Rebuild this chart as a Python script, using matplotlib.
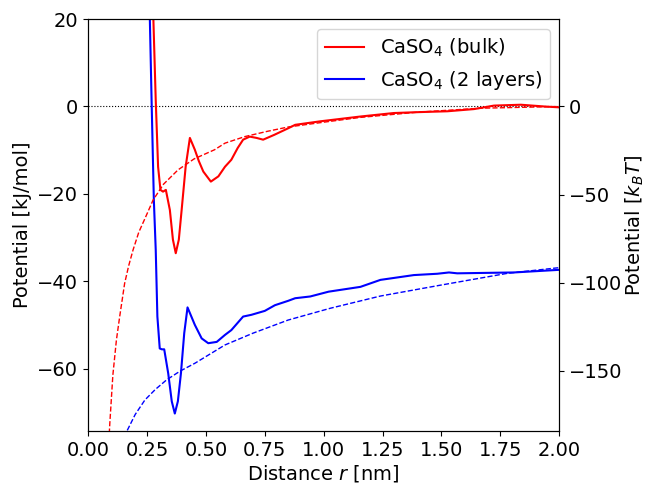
import matplotlib
matplotlib.use("Agg")
import matplotlib.pyplot as plt

# Data
r_bulk = [0.26, 0.277, 0.287, 0.297, 0.307, 0.318, 0.330, 0.347, 0.360, 0.372, 0.385, 0.397,
          0.414, 0.432, 0.453, 0.470, 0.489, 0.521, 0.553, 0.581, 0.608, 0.635, 0.658, 0.686,
          0.715, 0.743, 0.790, 0.849, 0.879, 0.985, 1.156, 1.298, 1.40, 1.525, 1.638, 1.723,
          1.837, 1.936, 2.0]
u_bulk = [50, 20, 1.5, -13.8, -19.1, -19.5, -19.1, -23.7, -30.5, -33.6, -30.5, -23.7,
          -13.8, -7.2, -9.9, -12.5, -14.9, -17.2, -16.0, -13.8, -12.2, -9.5, -7.6, -6.9,
          -7.2, -7.6, -6.5, -5.0, -4.2, -3.4, -2.3, -1.5, -1.3, -1.1, -0.6, 0.2,
          0.4, 0.0, -0.2]

r_layers = [0.25, 0.262, 0.270, 0.279, 0.287, 0.294, 0.304, 0.313, 0.323, 0.340, 0.355, 0.368,
            0.381, 0.394, 0.408, 0.422, 0.453, 0.482, 0.510, 0.546, 0.581, 0.608, 0.658, 0.693,
            0.750, 0.793, 0.849, 0.879, 0.943, 1.021, 1.156, 1.241, 1.383, 1.482, 1.532, 1.567,
            1.808, 2.0]
u_layers = [50, 20, 0, -21.4, -32.8, -48.1, -55.4, -55.6, -55.6, -61.1, -67.5, -70.3,
            -67.5, -61.1, -51.9, -46.0, -50.0, -53.1, -54.2, -53.9, -52.3, -51.2, -48.1, -47.7,
            -46.8, -45.5, -44.5, -43.9, -43.5, -42.4, -41.3, -39.7, -38.6, -38.3, -38.0, -38.2,
            -38.0, -37.4]

r_bulk_fit = [0.08, 0.092, 0.105, 0.120, 0.134, 0.155, 0.172, 0.191, 0.215, 0.240, 0.276, 0.320,
              0.382, 0.450, 0.537, 0.581, 0.665, 0.760, 0.849, 1.0, 1.156, 1.4, 1.667, 2.0]
u_bulk_fit = [-85, -72.6, -61.5, -53.5, -48.1, -40.5, -36.5, -32.8, -28.8, -25.8, -21.4, -17.8,
              -14.5, -12.0, -9.9, -8.4, -6.9, -5.7, -4.7, -3.6, -2.5, -1.3, -0.4, 0.0]

r_layers_fit = [0.14, 0.163, 0.20, 0.241, 0.285, 0.333, 0.390, 0.453, 0.520, 0.581, 0.700,
                0.849, 1.028, 1.241, 1.497, 1.780, 2.0]
u_layers_fit = [-79, -74.5, -70.5, -67.2, -64.8, -62.6, -60.6, -58.8, -56.6, -54.6, -51.9,
                -48.9, -46.2, -43.4, -40.9, -38.2, -36.9]

kT_factor = 2.478
ylim = (-74.3, 20)
xticks = [0.00, 0.25, 0.50, 0.75, 1.00, 1.25, 1.50, 1.75, 2.00]
yticks_left = [20, 0, -20, -40, -60]
yticks_right = [0, -50, -100, -150]

fs = 14
fig = plt.figure(figsize=(6.48, 4.84), dpi=100)
ax = fig.add_axes([0.136, 0.1095, 0.727, 0.851])

ax.axhline(0, color="black", linestyle=":", linewidth=0.8)
ax.plot(r_bulk, u_bulk, color="red", lw=1.5, label="CaSO$_4$ (bulk)")
ax.plot(r_layers, u_layers, color="blue", lw=1.5, label="CaSO$_4$ (2 layers)")
ax.plot(r_bulk_fit, u_bulk_fit, color="red", lw=1.0, linestyle="--")
ax.plot(r_layers_fit, u_layers_fit, color="blue", lw=1.0, linestyle="--")

ax.set_xlim(0, 2)
ax.set_ylim(*ylim)
ax.set_xticks(xticks)
ax.set_xticklabels([f"{v:.2f}" for v in xticks])
ax.set_yticks(yticks_left)
ax.tick_params(labelsize=fs)
ax.set_xlabel("Distance $r$ [nm]", fontsize=fs, labelpad=2)
ax.set_ylabel("Potential [kJ/mol]", fontsize=fs)
ax.legend(loc="upper right", fontsize=fs)

ax2 = ax.twinx()
ax2.set_ylim(ylim[0] * kT_factor, ylim[1] * kT_factor)
ax2.set_yticks(yticks_right)
ax2.tick_params(labelsize=fs)
ax2.set_ylabel("Potential [$k_BT$]", fontsize=fs, labelpad=1)

fig.savefig("out.png", dpi=100)
